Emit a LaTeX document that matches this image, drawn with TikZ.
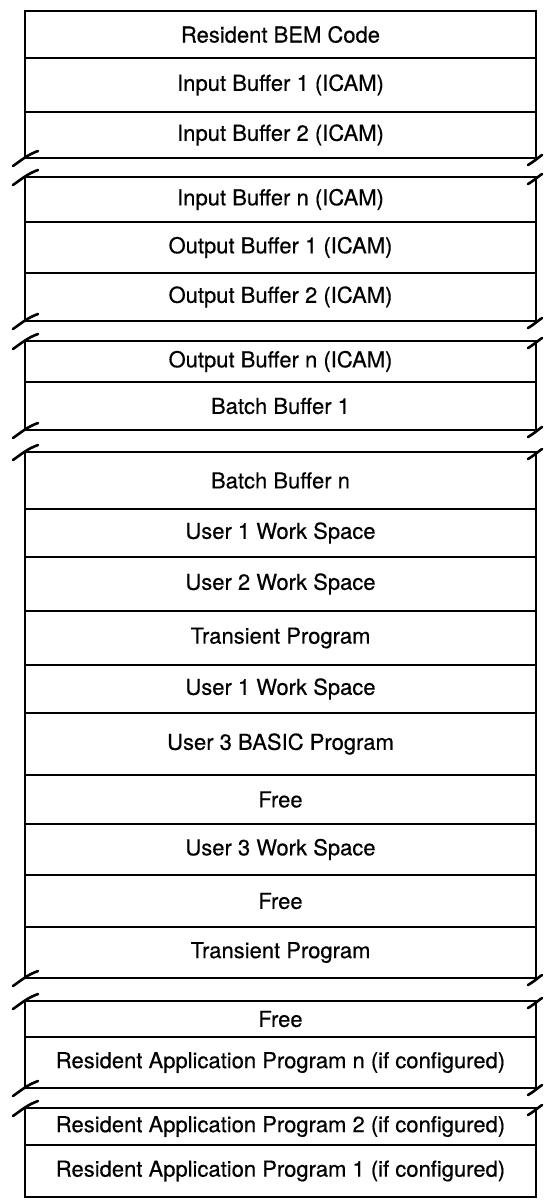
\documentclass[tikz,border=0pt]{standalone}
\usepackage{fontspec}
\setmainfont{TeX Gyre Heros}[FakeBold=0.4]
\usetikzlibrary{positioning,calc}

\begin{document}
\begin{tikzpicture}[x=1pt,y=-1pt,line width=2.6pt,
  font=\fontsize{22}{24}\selectfont,
  row/.style={draw,inner sep=0pt,outer sep=0pt,minimum width=511pt,anchor=north},
  brk/.style={line cap=round}]
\useasboundingbox (0,0) rectangle (545,1200);
% first block: BEM code and input buffers
\node[row,minimum height=47pt] (bem) at (280.5,11) {Resident BEM Code};
\node[row,minimum height=54pt,below=0pt of bem] (ib1) {Input Buffer 1 (ICAM)};
\node[row,minimum height=46pt,below=0pt of ib1] (ib2) {Input Buffer 2 (ICAM)};
% second block
\node[row,minimum height=45pt] (ibn) at (280.5,177) {Input Buffer n (ICAM)};
\node[row,minimum height=51pt,below=0pt of ibn] (ob1) {Output Buffer 1 (ICAM)};
\node[row,minimum height=48pt,below=0pt of ob1] (ob2) {Output Buffer 2 (ICAM)};
% third block
\node[row,minimum height=41pt] (obn) at (280.5,341) {Output Buffer n (ICAM)};
\node[row,minimum height=48pt,below=0pt of obn] (bb1) {Batch Buffer 1};
% fourth block: work spaces and programs
\node[row,minimum height=57pt] (bbn) at (280.5,452) {Batch Buffer n};
\node[row,minimum height=48pt,below=0pt of bbn] (ws1) {User 1 Work Space};
\node[row,minimum height=54pt,below=0pt of ws1] (ws2) {User 2 Work Space};
\node[row,minimum height=54pt,below=0pt of ws2] (tp1) {Transient Program};
\node[row,minimum height=48pt,below=0pt of tp1] (ws1b) {User 1 Work Space};
\node[row,minimum height=62pt,below=0pt of ws1b] (bas3) {User 3 BASIC Program};
\node[row,minimum height=49pt,below=0pt of bas3] (free1) {Free};
\node[row,minimum height=51pt,below=0pt of free1] (ws3) {User 3 Work Space};
\node[row,minimum height=52pt,below=0pt of ws3] (free2) {Free};
\node[row,minimum height=51pt,below=0pt of free2] (tp2) {Transient Program};
% fifth block
\node[row,minimum height=36pt] (free3) at (280.5,1001) {Free};
\node[row,minimum height=51pt,below=0pt of free3] (rapn) {Resident Application Program n (if configured)};
% sixth block
\node[row,minimum height=37pt] (rap2) at (280.5,1108) {Resident Application Program 2 (if configured)};
\node[row,minimum height=52pt,below=0pt of rap2] (rap1) {Resident Application Program 1 (if configured)};
% break marks, left side
\draw[brk] ($(ib2.south west)+(-12,8)$) to[out=35,in=200] ($(ib2.south west)+(13,-7)$);
\draw[brk] ($(ibn.north west)+(-12,8)$) to[out=35,in=200] ($(ibn.north west)+(13,-7)$);
\draw[brk] ($(ob2.south west)+(-12,8)$) to[out=35,in=200] ($(ob2.south west)+(13,-7)$);
\draw[brk] ($(obn.north west)+(-12,8)$) to[out=35,in=200] ($(obn.north west)+(13,-7)$);
\draw[brk] ($(bb1.south west)+(-12,8)$) to[out=35,in=200] ($(bb1.south west)+(13,-7)$);
\draw[brk] ($(bbn.north west)+(-12,8)$) to[out=35,in=200] ($(bbn.north west)+(13,-7)$);
\draw[brk] ($(tp2.south west)+(-12,8)$) to[out=35,in=200] ($(tp2.south west)+(13,-7)$);
\draw[brk] ($(free3.north west)+(-12,8)$) to[out=35,in=200] ($(free3.north west)+(13,-7)$);
\draw[brk] ($(rapn.south west)+(-12,8)$) to[out=35,in=200] ($(rapn.south west)+(13,-7)$);
\draw[brk] ($(rap2.north west)+(-12,8)$) to[out=35,in=200] ($(rap2.north west)+(13,-7)$);
% break marks, right side
\draw[brk] ($(ib2.south east)+(-8,7)$) to[out=30,in=215] ($(ib2.south east)+(6,-3)$);
\draw[brk] ($(ibn.north east)+(-8,7)$) to[out=30,in=215] ($(ibn.north east)+(6,-3)$);
\draw[brk] ($(ob2.south east)+(-8,7)$) to[out=30,in=215] ($(ob2.south east)+(6,-3)$);
\draw[brk] ($(obn.north east)+(-8,7)$) to[out=30,in=215] ($(obn.north east)+(6,-3)$);
\draw[brk] ($(bb1.south east)+(-8,7)$) to[out=30,in=215] ($(bb1.south east)+(6,-3)$);
\draw[brk] ($(bbn.north east)+(-8,7)$) to[out=30,in=215] ($(bbn.north east)+(6,-3)$);
\draw[brk] ($(tp2.south east)+(-8,7)$) to[out=30,in=215] ($(tp2.south east)+(6,-3)$);
\draw[brk] ($(free3.north east)+(-8,7)$) to[out=30,in=215] ($(free3.north east)+(6,-3)$);
\draw[brk] ($(rapn.south east)+(-8,7)$) to[out=30,in=215] ($(rapn.south east)+(6,-3)$);
\draw[brk] ($(rap2.north east)+(-8,7)$) to[out=30,in=215] ($(rap2.north east)+(6,-3)$);
\end{tikzpicture}
\end{document}
